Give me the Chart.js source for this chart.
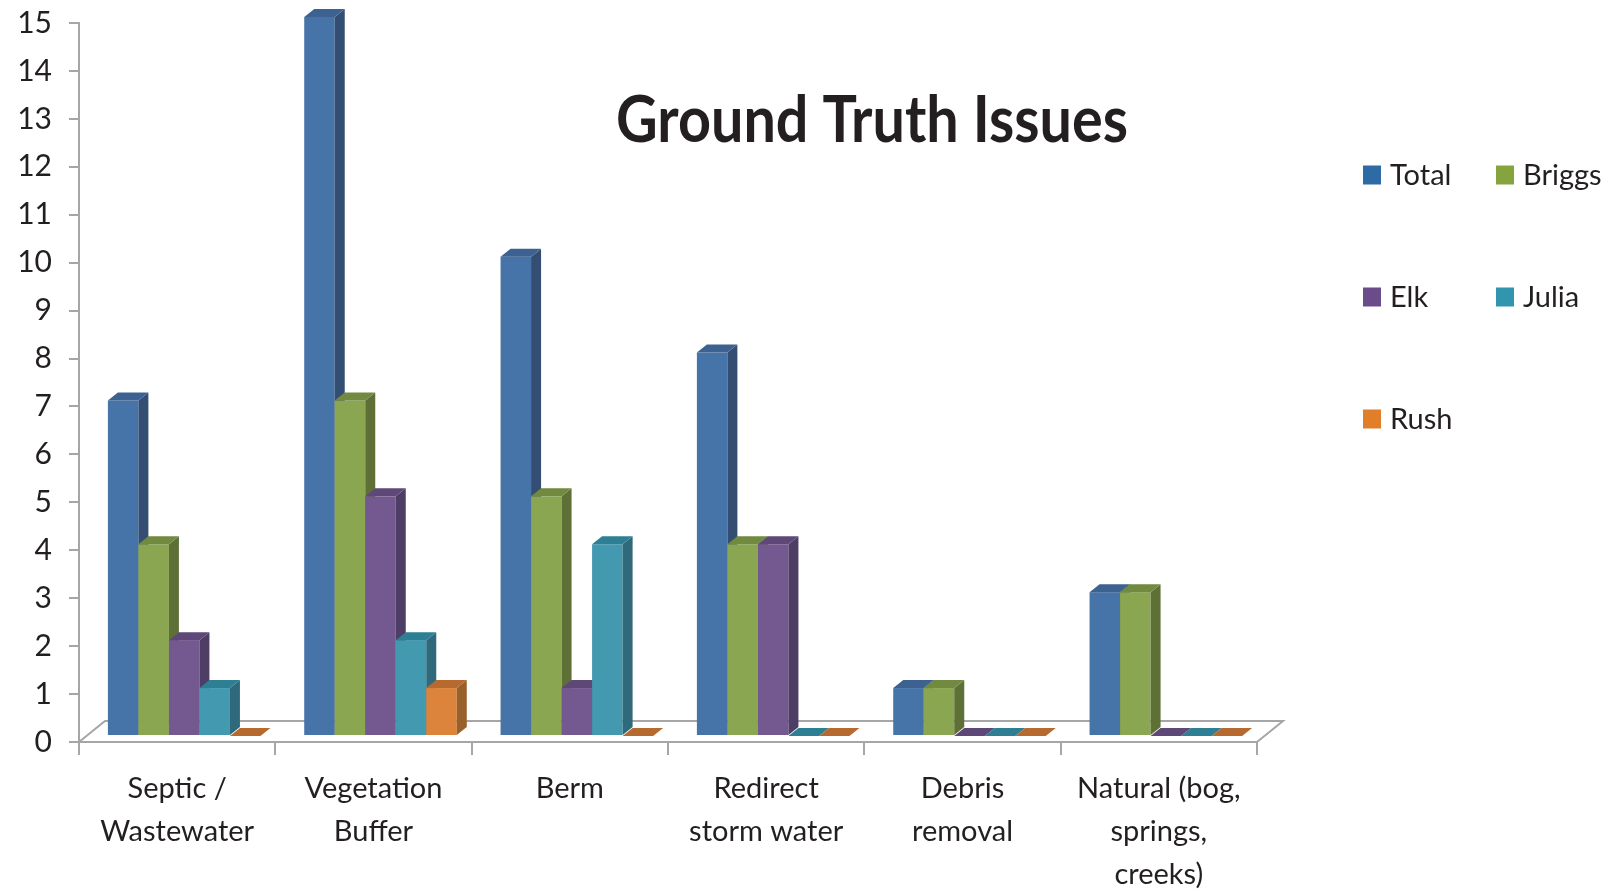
<!DOCTYPE html>
<html><head><meta charset="utf-8">
<script src="https://cdn.jsdelivr.net/npm/chart.js@4.4.1/dist/chart.umd.min.js"></script>
<style>html,body{margin:0;padding:0;background:#fff;}#wrap{width:1610px;height:891px;position:relative;}</style>
</head><body><div id="wrap"><canvas id="c"></canvas></div>
<script>
const categories = [['Septic /','Wastewater'], ['Vegetation','Buffer'], 'Berm', ['Redirect','storm water'], ['Debris','removal'], ['Natural (bog,','springs,','creeks)']];
const seriesNames = ['Total','Briggs','Elk','Julia','Rush'];
const total  = [7, 15, 10, 8, 1, 3];
const briggs = [4, 7, 5, 4, 1, 3];
const elk    = [2, 5, 1, 4, 0, 0];
const julia  = [1, 2, 4, 0, 0, 0];
const rush   = [0, 1, 0, 0, 0, 0];
const yMin = 0, yMax = 15, yStep = 1;
const titleText = 'Ground Truth Issues';

const legendColors = ['#2e6ba6','#86a43e','#6a4c8b','#3195ae','#e07e2a'];
const faces = [
  {front:'#4674a9', side:'#344e73', top:'#3d6291'},
  {front:'#8aa650', side:'#5f7036', top:'#728a40'},
  {front:'#73598f', side:'#4e3d64', top:'#5d4878'},
  {front:'#4299b0', side:'#2e6a7b', top:'#2e7f93'},
  {front:'#dd843c', side:'#98602b', top:'#b66a30'}
];
const values = [total, briggs, elk, julia, rush];

const SHIFT_X = 7, SHIFT_Y = -6, DX = 10, DY = 8, FLOOR_DX = 26, FLOOR_DY = 21;

const threeD = {
  id: 'threeD',
  beforeDatasetsDraw(chart) {
    const ctx = chart.ctx, a = chart.chartArea;
    ctx.save();
    ctx.strokeStyle = '#a6a6a6'; ctx.lineWidth = 2;
    ctx.beginPath();
    ctx.moveTo(a.left, a.bottom);
    ctx.lineTo(a.left + FLOOR_DX, a.bottom - FLOOR_DY);
    ctx.lineTo(a.right + FLOOR_DX, a.bottom - FLOOR_DY);
    ctx.lineTo(a.right, a.bottom);
    ctx.stroke();
    const n = chart.data.labels.length;
    for (let j = 0; j < n; j++) {
      chart.data.datasets.forEach((ds, i) => {
        const el = chart.getDatasetMeta(i).data[j];
        const p = el.getProps(['x','y','base','width'], true);
        const L = p.x - p.width/2 + SHIFT_X, R = p.x + p.width/2 + SHIFT_X;
        const T = p.y + SHIFT_Y, B = p.base + SHIFT_Y;
        const c = faces[i];
        ctx.fillStyle = c.front; ctx.fillRect(L, T, R - L, B - T);
        ctx.fillStyle = c.side; ctx.beginPath();
        ctx.moveTo(R, T); ctx.lineTo(R + DX, T - DY); ctx.lineTo(R + DX, B - DY); ctx.lineTo(R, B); ctx.closePath(); ctx.fill();
        ctx.fillStyle = c.top; ctx.beginPath();
        ctx.moveTo(L, T); ctx.lineTo(R, T); ctx.lineTo(R + DX, T - DY); ctx.lineTo(L + DX, T - DY); ctx.closePath(); ctx.fill();
      });
    }
    ctx.restore();
    return false;
  },
  afterDraw(chart) {
    const ctx = chart.ctx;
    ctx.save();
    ctx.fillStyle = '#231f20';
    ctx.font = 'bold 65px Lato';
    ctx.textBaseline = 'alphabetic';
    const w = ctx.measureText(titleText).width;
    const target = 512;
    ctx.translate(616, 142);
    ctx.scale(target / w, 1);
    ctx.fillText(titleText, 0, 0);
    ctx.restore();
    ctx.save();
    ctx.font = '29px Lato';
    ctx.textBaseline = 'alphabetic';
    const cols = [1363, 1496], rows = [175, 297, 419];
    chart.data.datasets.forEach((ds, i) => {
      const x = cols[i % 2], y = rows[Math.floor(i / 2)];
      ctx.fillStyle = ds.backgroundColor;
      ctx.fillRect(x, y - 9.5, 18, 19);
      ctx.fillStyle = '#231f20';
      ctx.fillText(ds.label, x + 27, y + 10);
    });
    ctx.restore();
  }
};

Chart.defaults.color = '#231f20';
Chart.defaults.font.family = 'Lato';

new Chart(document.getElementById('c'), {
  type: 'bar',
  data: {
    labels: categories,
    datasets: seriesNames.map((name, i) => ({
      label: name, data: values[i], backgroundColor: legendColors[i],
      categoryPercentage: 0.777, barPercentage: 1
    }))
  },
  options: {
    responsive: true, maintainAspectRatio: false, animation: false,
    layout: { padding: { left: 0, right: 353, top: 23, bottom: 0 } },
    plugins: { legend: { display: false }, title: { display: false }, tooltip: { enabled: false } },
    scales: {
      x: {
        grid: { offset: true, drawOnChartArea: false, drawTicks: true, tickLength: 13, color: '#a6a6a6', lineWidth: 2 },
        border: { display: true, color: '#a6a6a6', width: 2 },
        ticks: { font: { size: 29, lineHeight: '43px' }, padding: 12, maxRotation: 0, autoSkip: false },
        afterFit(s) { s.height = 149; }
      },
      y: {
        min: yMin, max: yMax,
        grid: { drawOnChartArea: false, drawTicks: true, tickLength: 10, color: '#a6a6a6', lineWidth: 2 },
        border: { display: true, color: '#a6a6a6', width: 2 },
        ticks: { stepSize: yStep, font: { size: 30 }, padding: 17 },
        afterFit(s) { s.width = 79; s.paddingTop = 0; s.paddingBottom = 0; }
      }
    }
  },
  plugins: [threeD]
});
</script></body></html>
